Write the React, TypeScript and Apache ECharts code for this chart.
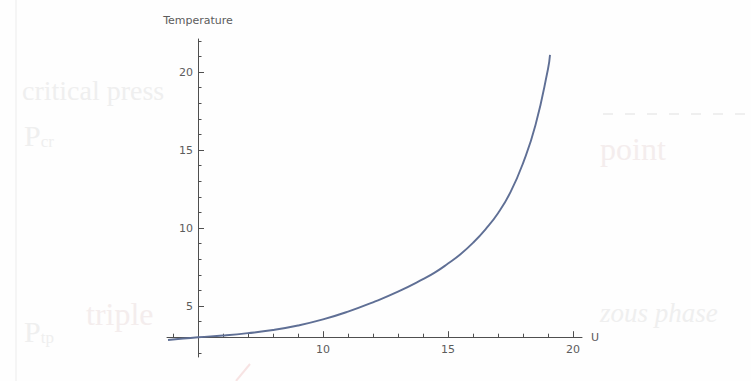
import { useEffect, useRef } from "react";
import * as echarts from "echarts";

// Curve: U (horizontal) and Temperature (vertical)
const U_VALUES = [3.8, 4, 5, 6, 7, 8, 9, 10, 11, 12, 13, 14, 14.5, 15, 15.5, 16, 16.5, 17, 17.5, 18, 18.5, 19, 19.08];
const T_VALUES = [2.82, 2.85, 3.0, 3.11, 3.26, 3.46, 3.75, 4.14, 4.64, 5.24, 5.92, 6.72, 7.17, 7.72, 8.32, 9.05, 9.92, 10.95, 12.3, 14.15, 16.6, 20.2, 21.1];

// Axes cross at this point (Mathematica-style axes origin)
const ORIGIN_U = 5;
const ORIGIN_T = 3;

// Axis extents
const U_MIN = 3.76;
const U_MAX = 20.36;
const T_MIN = 1.73;
const T_MAX = 22.12;

// Ticks and labels
const X_LABELS = [10, 15, 20];
const X_MAJOR_TICKS = [5, 10, 15, 20];
const X_MINOR_TICKS = [4, 6, 7, 8, 9, 11, 12, 13, 14, 16, 17, 18, 19];
const Y_LABELS = [5, 10, 15, 20];
const Y_MAJOR_TICKS = [5, 10, 15, 20];
const Y_MINOR_TICKS = [2, 4, 6, 7, 8, 9, 11, 12, 13, 14, 16, 17, 18, 19, 21, 22];

const GRID = { left: 167, top: 39, width: 415, height: 318 };

const FONT = "DejaVu Sans";
const AXIS_COLOR = "#4f4f4f";
const LABEL_COLOR = "#5c5c5c";
const CURVE_COLOR = "#5f6f95";
const FAINT = "#efefef";
const FAINT_PINK = "#f4eded";

export default function App() {
  const ref = useRef<HTMLDivElement>(null);

  useEffect(() => {
    if (!ref.current) return;
    const chart = echarts.init(ref.current, null, { renderer: "svg" });

    // Move the axes inside the grid so they cross at (ORIGIN_U, ORIGIN_T)
    const xOffset = -((ORIGIN_T - T_MIN) / (T_MAX - T_MIN)) * GRID.height;
    const yOffset = -((ORIGIN_U - U_MIN) / (U_MAX - U_MIN)) * GRID.width;

    const xCommon = {
      type: "value" as const,
      min: U_MIN,
      max: U_MAX,
      position: "bottom" as const,
      offset: xOffset,
      splitLine: { show: false },
    };
    const yCommon = {
      type: "value" as const,
      min: T_MIN,
      max: T_MAX,
      position: "left" as const,
      offset: yOffset,
      splitLine: { show: false },
    };

    const subscriptText = (main: string, sub: string) => ({
      text: `{a|${main}}{b|${sub}}`,
      rich: {
        a: { font: "30px 'Liberation Serif'", fill: FAINT },
        b: { font: "17px 'Liberation Serif'", fill: FAINT, padding: [12, 0, 0, 0] },
      },
    });

    const option: any = {
      animation: false,
      backgroundColor: "#fefefe",
      grid: { ...GRID, outerBoundsMode: "none", containLabel: false },
      graphic: [
        { type: "line", silent: true, shape: { x1: 16, y1: 0, x2: 16, y2: 381 }, style: { stroke: "#f2f2f2", lineWidth: 1.5 } },
        { type: "text", silent: true, left: 22, top: 76, style: { text: "critical press", font: "28px 'Liberation Serif'", fill: FAINT } },
        { type: "text", silent: true, left: 24, top: 120, style: subscriptText("P", "cr") },
        { type: "line", silent: true, shape: { x1: 603, y1: 114, x2: 751, y2: 114 }, style: { stroke: "#efefef", lineWidth: 2, lineDash: [10, 12] } },
        { type: "text", silent: true, left: 600, top: 133, style: { text: "point", font: "32px 'Liberation Serif'", fill: FAINT_PINK } },
        { type: "text", silent: true, left: 86, top: 298, style: { text: "triple", font: "32px 'Liberation Serif'", fill: FAINT_PINK } },
        { type: "text", silent: true, left: 24, top: 316, style: subscriptText("P", "tp") },
        { type: "text", silent: true, left: 600, top: 299, style: { text: "zous phase", font: "italic 27px 'Liberation Serif'", fill: FAINT } },
        { type: "line", silent: true, shape: { x1: 236, y1: 381, x2: 250, y2: 364 }, style: { stroke: "#f7e3e3", lineWidth: 2 } },
      ],
      xAxis: [
        {
          ...xCommon,
          name: "U",
          nameLocation: "end",
          nameGap: 9,
          nameTextStyle: { fontFamily: FONT, fontSize: 11, color: LABEL_COLOR },
          axisLine: { show: true, onZero: false, lineStyle: { color: AXIS_COLOR, width: 1 } },
          axisTick: {
            show: true,
            inside: true,
            length: 6,
            customValues: X_MAJOR_TICKS,
            lineStyle: { color: AXIS_COLOR, width: 1 },
          },
          axisLabel: {
            show: true,
            customValues: X_LABELS,
            fontFamily: FONT,
            fontSize: 11,
            color: LABEL_COLOR,
            margin: 7,
          },
        },
        {
          ...xCommon,
          axisLine: { show: false, onZero: false },
          axisTick: {
            show: true,
            inside: true,
            length: 3.5,
            customValues: X_MINOR_TICKS,
            lineStyle: { color: AXIS_COLOR, width: 1 },
          },
          axisLabel: { show: false },
        },
      ],
      yAxis: [
        {
          ...yCommon,
          name: "Temperature",
          nameLocation: "end",
          nameGap: 13,
          nameTextStyle: { fontFamily: FONT, fontSize: 11, color: LABEL_COLOR, align: "center" },
          axisLine: { show: true, onZero: false, lineStyle: { color: AXIS_COLOR, width: 1 } },
          axisTick: {
            show: true,
            inside: true,
            length: 6,
            customValues: Y_MAJOR_TICKS,
            lineStyle: { color: AXIS_COLOR, width: 1 },
          },
          axisLabel: {
            show: true,
            customValues: Y_LABELS,
            fontFamily: FONT,
            fontSize: 11,
            color: LABEL_COLOR,
            margin: 5,
          },
        },
        {
          ...yCommon,
          axisLine: { show: false, onZero: false },
          axisTick: {
            show: true,
            inside: true,
            length: 3.5,
            customValues: Y_MINOR_TICKS,
            lineStyle: { color: AXIS_COLOR, width: 1 },
          },
          axisLabel: { show: false },
        },
      ],
      series: [
        {
          type: "line",
          xAxisIndex: 0,
          yAxisIndex: 0,
          data: U_VALUES.map((u, i) => [u, T_VALUES[i]]),
          showSymbol: false,
          smooth: 0.5,
          clip: false,
          lineStyle: { color: CURVE_COLOR, width: 1.9 },
        },
      ],
    };

    chart.setOption(option);
    return () => chart.dispose();
  }, []);

  return (
    <div
      ref={ref}
      style={{ position: "fixed", left: 0, top: 0, width: 751, height: 381 }}
    />
  );
}
